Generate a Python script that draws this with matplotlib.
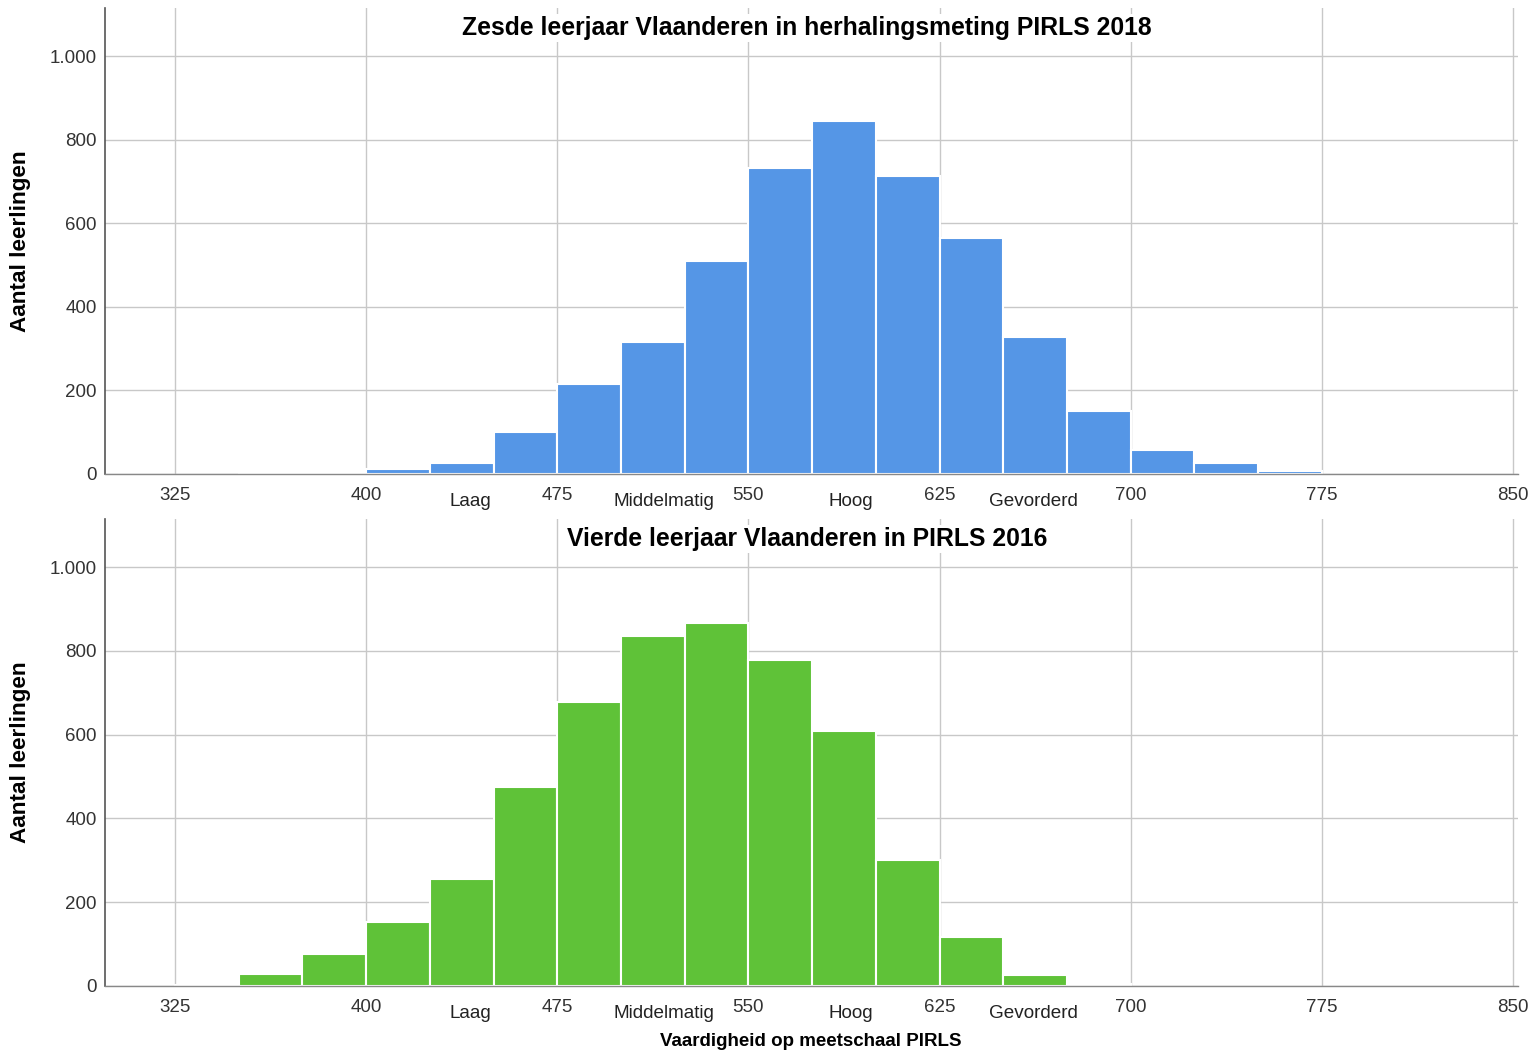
import matplotlib
matplotlib.use("Agg")
import matplotlib.pyplot as plt
from matplotlib.ticker import FuncFormatter

plt.rcParams['font.family'] = ['Liberation Sans', 'DejaVu Sans']

# Data
bin_width = 25
top_bins = [350, 375, 400, 425, 450, 475, 500, 525, 550, 575, 600, 625, 650, 675, 700, 725, 750]
top_counts = [2, 5, 12, 26, 100, 215, 316, 510, 732, 844, 714, 564, 328, 151, 58, 27, 6]
bottom_bins = [325, 350, 375, 400, 425, 450, 475, 500, 525, 550, 575, 600, 625, 650, 675]
bottom_counts = [3, 29, 77, 153, 255, 475, 677, 835, 866, 778, 609, 301, 117, 27, 4]
x_ticks = [325, 400, 475, 550, 625, 700, 775, 850]
y_ticks = [0, 200, 400, 600, 800, 1000]
level_labels = ["Laag", "Middelmatig", "Hoog", "Gevorderd"]
level_pos = [441, 517, 590, 662]
titles = ["Zesde leerjaar Vlaanderen in herhalingsmeting PIRLS 2018",
          "Vierde leerjaar Vlaanderen in PIRLS 2016"]
ylabel = "Aantal leerlingen"
xlabel = "Vaardigheid op meetschaal PIRLS"
colors = ["#5596E6", "#5FC238"]

W, H = 1534, 1054
fig = plt.figure(figsize=(W / 100, H / 100), dpi=100)
left = 105 / W
width = (1518 - 105) / W
ax_top = fig.add_axes([left, 1 - 474 / H, width, 466 / H])
ax_bot = fig.add_axes([left, 1 - 986 / H, width, 467 / H])

fmt = FuncFormatter(lambda v, p: f"{int(v):,}".replace(",", "."))

for ax, bins, counts, title, col in [
    (ax_top, top_bins, top_counts, titles[0], colors[0]),
    (ax_bot, bottom_bins, bottom_counts, titles[1], colors[1]),
]:
    ax.bar(bins, counts, width=bin_width, align='edge', color=col,
           edgecolor='white', linewidth=1.5, zorder=3)
    ax.set_xlim(297.5, 852)
    ax.set_ylim(0, 1115)
    ax.set_xticks(x_ticks)
    ax.set_yticks(y_ticks)
    ax.yaxis.set_major_formatter(fmt)
    ax.grid(True, color='#C8C8C8', linewidth=1.0, zorder=0)
    ax.set_axisbelow(True)
    for s in ['top', 'right']:
        ax.spines[s].set_visible(False)
    ax.spines['left'].set_color('#555555')
    ax.spines['bottom'].set_color('#888888')
    ax.spines['left'].set_linewidth(1.2)
    ax.spines['bottom'].set_linewidth(1.0)
    ax.spines['left'].set_zorder(4)
    ax.spines['bottom'].set_zorder(4)
    ax.tick_params(axis='both', length=0, labelsize=13.5, labelcolor='#333333')
    ax.tick_params(axis='x', pad=9)
    ax.tick_params(axis='y', pad=6)
    ax.set_ylabel(ylabel, fontsize=16.2, fontweight='bold', labelpad=13)
    ax.text(0.497, 0.957, title, transform=ax.transAxes, ha='center', va='center',
            fontsize=17.8, fontweight='bold',
            bbox=dict(facecolor='white', edgecolor='none', pad=1.5), zorder=5)
    for lbl, pos in zip(level_labels, level_pos):
        ax.annotate(lbl, xy=(pos, 0), xycoords=('data', 'axes fraction'),
                    xytext=(0, -19.5), textcoords='offset points', ha='center', va='center',
                    fontsize=13.6, color='#222222', annotation_clip=False)

fig.text(811 / W, 1 - 1042 / H, xlabel, ha='center', va='center',
         fontsize=13.5, fontweight='bold')

fig.savefig("out.png", dpi=100)
